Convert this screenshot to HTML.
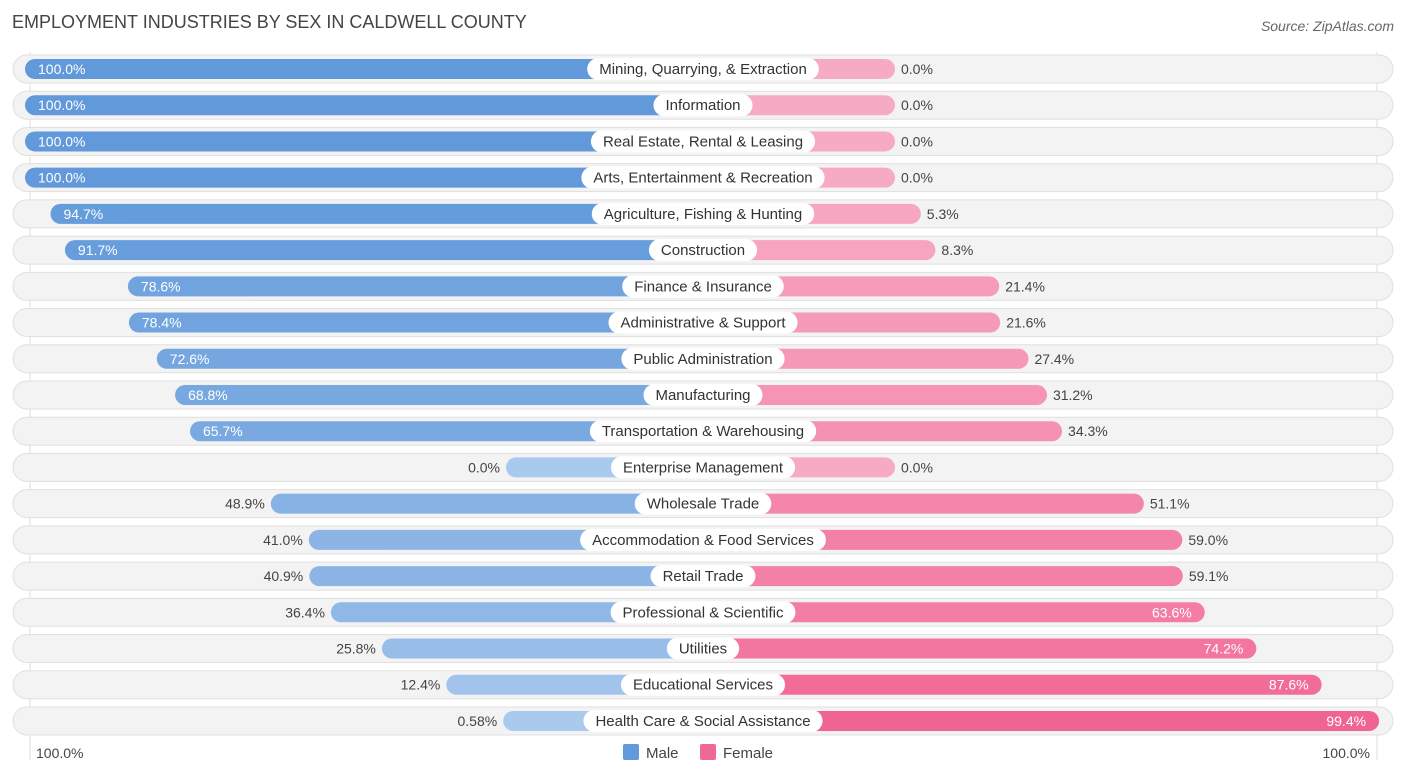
<!DOCTYPE html>
<html><head><meta charset="utf-8"><style>
body{margin:0;background:#fff;font-family:"Liberation Sans",sans-serif;}
svg{display:block}
</style></head><body>
<svg id="c" width="1406" height="777">
<text x="12" y="28" font-size="18" fill="#444">EMPLOYMENT INDUSTRIES BY SEX IN CALDWELL COUNTY</text>
<text x="1394" y="31" font-size="14" fill="#666" font-style="italic" text-anchor="end">Source: ZipAtlas.com</text>
<line x1="30" y1="52" x2="30" y2="760" stroke="#ddd"/>
<line x1="1377" y1="52" x2="1377" y2="760" stroke="#ddd"/>
<g id="rows"></g>
<text x="36" y="758" font-size="14" fill="#444">100.0%</text>
<text x="1370" y="758" font-size="14" fill="#444" text-anchor="end">100.0%</text>
<rect x="623" y="744" width="16" height="16" rx="2" fill="#6199da"/>
<text x="646" y="758" font-size="15" fill="#444">Male</text>
<rect x="700" y="744" width="16" height="16" rx="2" fill="#f06895"/>
<text x="723" y="758" font-size="15" fill="#444">Female</text>
</svg>
<script>
const categories=["Mining, Quarrying, & Extraction","Information","Real Estate, Rental & Leasing","Arts, Entertainment & Recreation","Agriculture, Fishing & Hunting","Construction","Finance & Insurance","Administrative & Support","Public Administration","Manufacturing","Transportation & Warehousing","Enterprise Management","Wholesale Trade","Accommodation & Food Services","Retail Trade","Professional & Scientific","Utilities","Educational Services","Health Care & Social Assistance"];
const maleValues=[100,100,100,100,94.7,91.7,78.6,78.4,72.6,68.8,65.7,0,48.9,41.0,40.9,36.4,25.8,12.4,0.58];
const femaleValues=[0,0,0,0,5.3,8.3,21.4,21.6,27.4,31.2,34.3,0,51.1,59.0,59.1,63.6,74.2,87.6,99.4];
const maleLabels=["100.0%","100.0%","100.0%","100.0%","94.7%","91.7%","78.6%","78.4%","72.6%","68.8%","65.7%","0.0%","48.9%","41.0%","40.9%","36.4%","25.8%","12.4%","0.58%"];
const femaleLabels=["0.0%","0.0%","0.0%","0.0%","5.3%","8.3%","21.4%","21.6%","27.4%","31.2%","34.3%","0.0%","51.1%","59.0%","59.1%","63.6%","74.2%","87.6%","99.4%"];
const NS="http://www.w3.org/2000/svg";
const g=document.getElementById('rows');
const cx=703, mBase=506, mScale=4.81, fBase=895, fScale=4.87;
const y0=69, dy=36.22;
function xM(v){return mBase-v*mScale;}
function xF(v){return fBase+v*fScale;}
function mix(a,b,t){return 'rgb('+a.map((c,i)=>Math.round(c+(b[i]-c)*t)).join(',')+')';}
function mk(tag,attrs){const e=document.createElementNS(NS,tag);for(const k in attrs)e.setAttribute(k,attrs[k]);return e;}
const meas=mk('text',{'font-size':15});g.appendChild(meas);
categories.forEach((cat,i)=>{
  const y=y0+i*dy;
  const bg=mk('rect',{x:13,y:y-14,width:1380,height:28,rx:14,fill:'#f3f3f3',stroke:'#e0e0e0'});
  
  
  g.appendChild(bg);
  const mv=maleValues[i], fv=femaleValues[i];
  const mx=xM(mv);
  const mb=mk('rect',{x:mx,y:y-10,width:cx-mx+10,height:20,rx:10,fill:mix([170,201,238],[97,153,218],mv/100)});
  
  
  g.appendChild(mb);
  const fx=xF(fv);
  const fb=mk('rect',{x:cx-10,y:y-10,width:fx-cx+10,height:20,rx:10,fill:mix([247,170,196],[240,100,146],fv/100)});
  
  
  g.appendChild(fb);
  // labels
  const mIn=mv>55;
  const ml=mk('text',{x:mIn?mx+13:mx-6,y:y+5,'font-size':14,fill:mIn?'#fff':'#444','text-anchor':mIn?'start':'end'});
  ml.textContent=maleLabels[i];
  
  
  g.appendChild(ml);
  const fIn=fv>60;
  const fl=mk('text',{x:fIn?fx-13:fx+6,y:y+5,'font-size':14,fill:fIn?'#fff':'#444','text-anchor':fIn?'end':'start'});
  fl.textContent=femaleLabels[i];
  
  
  g.appendChild(fl);
  meas.textContent=cat;
  const w=meas.getComputedTextLength()+24;
  const pill=mk('rect',{x:cx-w/2,y:y-11,width:w,height:22,rx:11,fill:'#fff'});
  
  
  g.appendChild(pill);
  const t=mk('text',{x:cx,y:y+5,'font-size':15,fill:'#333','text-anchor':'middle'});
  t.textContent=cat;
  
  
  g.appendChild(t);
});
g.removeChild(meas);
</script>
</body></html>
